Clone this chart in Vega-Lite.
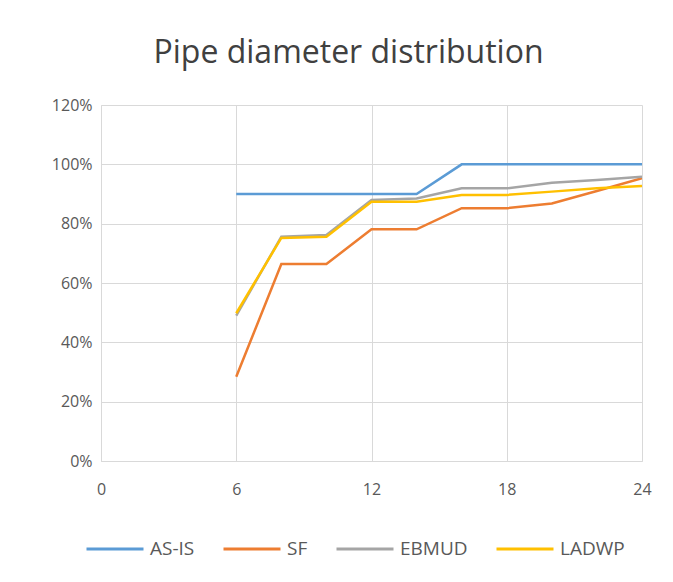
{
  "$schema": "https://vega.github.io/schema/vega-lite/v6.json",
  "width": 541,
  "height": 356,
  "autosize": "none",
  "padding": {"left": 101, "top": 105, "right": 31, "bottom": 121},
  "background": "white",
  "title": {
    "text": "Pipe diameter distribution",
    "fontSize": 32,
    "font": "Open Sans",
    "fontWeight": "normal",
    "color": "#404040",
    "anchor": "middle",
    "dx": -23,
    "offset": 27
  },
  "config": {
    "view": {"stroke": null},
    "font": "Open Sans"
  },
  "data": {
    "values": [
      {"size": 6, "series": "AS-IS", "pct": 0.90},
      {"size": 8, "series": "AS-IS", "pct": 0.90},
      {"size": 10, "series": "AS-IS", "pct": 0.90},
      {"size": 12, "series": "AS-IS", "pct": 0.90},
      {"size": 14, "series": "AS-IS", "pct": 0.90},
      {"size": 16, "series": "AS-IS", "pct": 1.00},
      {"size": 18, "series": "AS-IS", "pct": 1.00},
      {"size": 20, "series": "AS-IS", "pct": 1.00},
      {"size": 22, "series": "AS-IS", "pct": 1.00},
      {"size": 24, "series": "AS-IS", "pct": 1.00},
      {"size": 6, "series": "SF", "pct": 0.284},
      {"size": 8, "series": "SF", "pct": 0.664},
      {"size": 10, "series": "SF", "pct": 0.664},
      {"size": 12, "series": "SF", "pct": 0.781},
      {"size": 14, "series": "SF", "pct": 0.781},
      {"size": 16, "series": "SF", "pct": 0.852},
      {"size": 18, "series": "SF", "pct": 0.852},
      {"size": 20, "series": "SF", "pct": 0.868},
      {"size": 22, "series": "SF", "pct": 0.91},
      {"size": 24, "series": "SF", "pct": 0.953},
      {"size": 6, "series": "EBMUD", "pct": 0.49},
      {"size": 8, "series": "EBMUD", "pct": 0.756},
      {"size": 10, "series": "EBMUD", "pct": 0.762},
      {"size": 12, "series": "EBMUD", "pct": 0.88},
      {"size": 14, "series": "EBMUD", "pct": 0.885},
      {"size": 16, "series": "EBMUD", "pct": 0.919},
      {"size": 18, "series": "EBMUD", "pct": 0.919},
      {"size": 20, "series": "EBMUD", "pct": 0.938},
      {"size": 22, "series": "EBMUD", "pct": 0.947},
      {"size": 24, "series": "EBMUD", "pct": 0.958},
      {"size": 6, "series": "LADWP", "pct": 0.498},
      {"size": 8, "series": "LADWP", "pct": 0.752},
      {"size": 10, "series": "LADWP", "pct": 0.756},
      {"size": 12, "series": "LADWP", "pct": 0.874},
      {"size": 14, "series": "LADWP", "pct": 0.874},
      {"size": 16, "series": "LADWP", "pct": 0.897},
      {"size": 18, "series": "LADWP", "pct": 0.897},
      {"size": 20, "series": "LADWP", "pct": 0.908},
      {"size": 22, "series": "LADWP", "pct": 0.919},
      {"size": 24, "series": "LADWP", "pct": 0.927}
    ]
  },
  "mark": {"type": "line", "strokeWidth": 2.5, "clip": true},
  "encoding": {
    "x": {
      "field": "size",
      "type": "quantitative",
      "scale": {"domain": [0, 24], "nice": false},
      "axis": {
        "title": null,
        "values": [0, 6, 12, 18, 24],
        "grid": true,
        "gridColor": "#d9d9d9",
        "ticks": false,
        "domain": true,
        "domainColor": "#d9d9d9",
        "labelFontSize": 16,
        "labelColor": "#595959",
        "labelPadding": 20,
        "labelFlush": false
      }
    },
    "y": {
      "field": "pct",
      "type": "quantitative",
      "scale": {"domain": [0, 1.2], "nice": false},
      "axis": {
        "title": null,
        "values": [0, 0.2, 0.4, 0.6, 0.8, 1.0, 1.2],
        "format": ".0%",
        "grid": true,
        "gridColor": "#d9d9d9",
        "ticks": false,
        "domain": true,
        "domainColor": "#d9d9d9",
        "labelFontSize": 16,
        "labelColor": "#595959",
        "labelPadding": 9
      }
    },
    "color": {
      "field": "series",
      "type": "nominal",
      "scale": {
        "domain": ["AS-IS", "SF", "EBMUD", "LADWP"],
        "range": ["#5B9BD5", "#ED7D31", "#A5A5A5", "#FFC000"]
      },
      "legend": {
        "title": null,
        "orient": "none",
        "legendX": -16,
        "legendY": 414,
        "direction": "horizontal",
        "symbolType": "stroke",
        "symbolStrokeWidth": 3,
        "symbolSize": 3249,
        "labelFontSize": 19,
        "labelColor": "#595959",
        "labelOffset": 5,
        "columnPadding": 22
      }
    },
    "order": {"field": "size"}
  }
}
